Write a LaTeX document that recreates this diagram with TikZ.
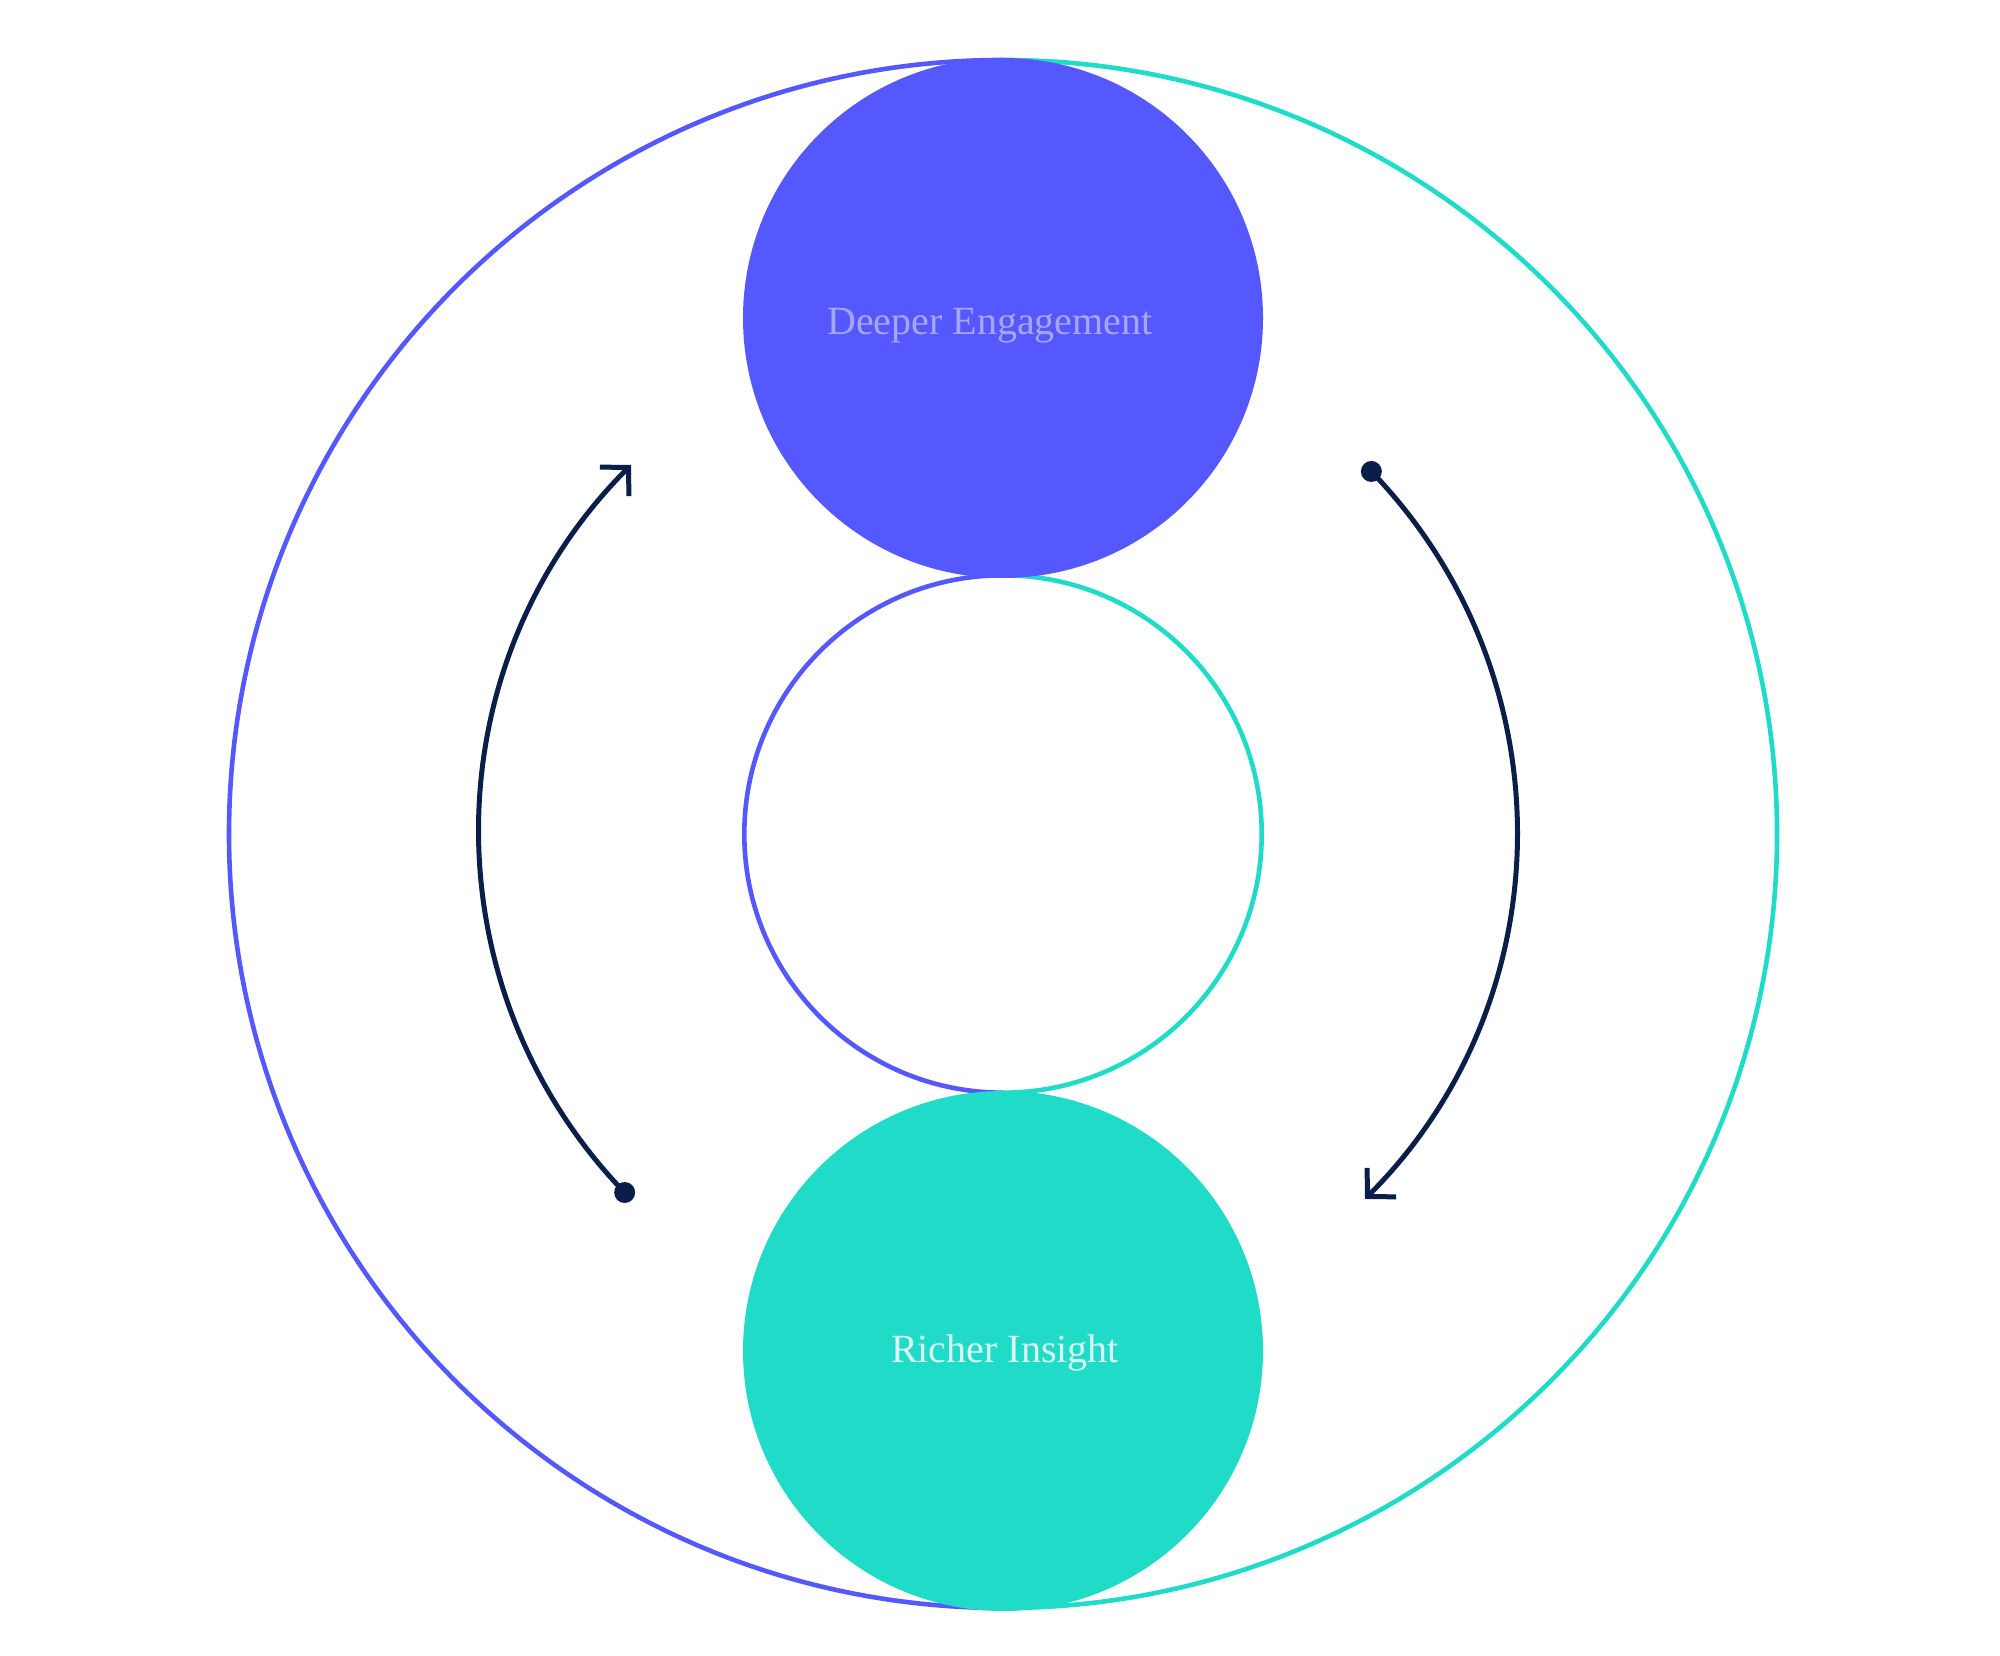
\documentclass[tikz,border=0pt]{standalone}
\usepackage{fontspec}
\setmainfont{Liberation Serif}
\usetikzlibrary{arrows.meta,calc}
\definecolor{cblue}{HTML}{5658FF}
\definecolor{cteal}{HTML}{20DBC8}
\definecolor{cdark}{HTML}{0B1E4A}
\definecolor{clav}{HTML}{A5A6F2}
\definecolor{cmint}{HTML}{D9F7F1}
\begin{document}
\begin{tikzpicture}[x=1pt,y=1pt,
  ring/.style={line width=4.6pt},
  fillcirc/.style={circle, inner sep=0pt, outer sep=0pt, minimum size=520pt},
  flow/.style={draw=cdark, line width=5pt, -{Straight Barb[length=20pt,width=41pt]}},
  dotnode/.style={circle, fill=cdark, inner sep=0pt, minimum size=21pt},
  lbl/.style={font=\fontsize{40}{48}\selectfont, anchor=base, inner sep=0pt}]
\useasboundingbox[fill=white] (0,0) rectangle (2000,1656);
\coordinate (C) at (1003,822);
\coordinate (A) at (998,824);
% outer ring
\node[circle, inner sep=0pt, outer sep=0pt, minimum size=1548pt] (outer) at (C) {};
\draw[ring, cblue] (outer.north) arc[start angle=90, end angle=270, radius=774];
\draw[ring, cteal] (outer.south) arc[start angle=-90, end angle=90, radius=774];
% middle ring
\node[circle, inner sep=0pt, outer sep=0pt, minimum size=517.4pt] (core) at (C) {};
\draw[ring, cblue] (core.north) arc[start angle=90, end angle=270, radius=258.7];
\draw[ring, cteal] (core.south) arc[start angle=-90, end angle=90, radius=258.7];
% filled circles
\node[fillcirc, fill=cblue] (eng) at (1003,1338) {};
\node[fillcirc, fill=cteal] (ins) at (1003,305) {};
% labels
\node[lbl, text=clav] (englbl) at (990,1321) {Deeper Engagement};
\node[lbl, text=cmint] (inslbl) at (1005,293) {Richer Insight};
% flow arcs
\node[dotnode] (ldot) at ($(A)+(224:519)$) {};
\node[dotnode] (rdot) at ($(A)+(44:519)$) {};
\draw[flow] (ldot.center) arc[start angle=224, end angle=135, radius=519];
\draw[flow] (rdot.center) arc[start angle=44, end angle=-45, radius=519];
\end{tikzpicture}
\end{document}
